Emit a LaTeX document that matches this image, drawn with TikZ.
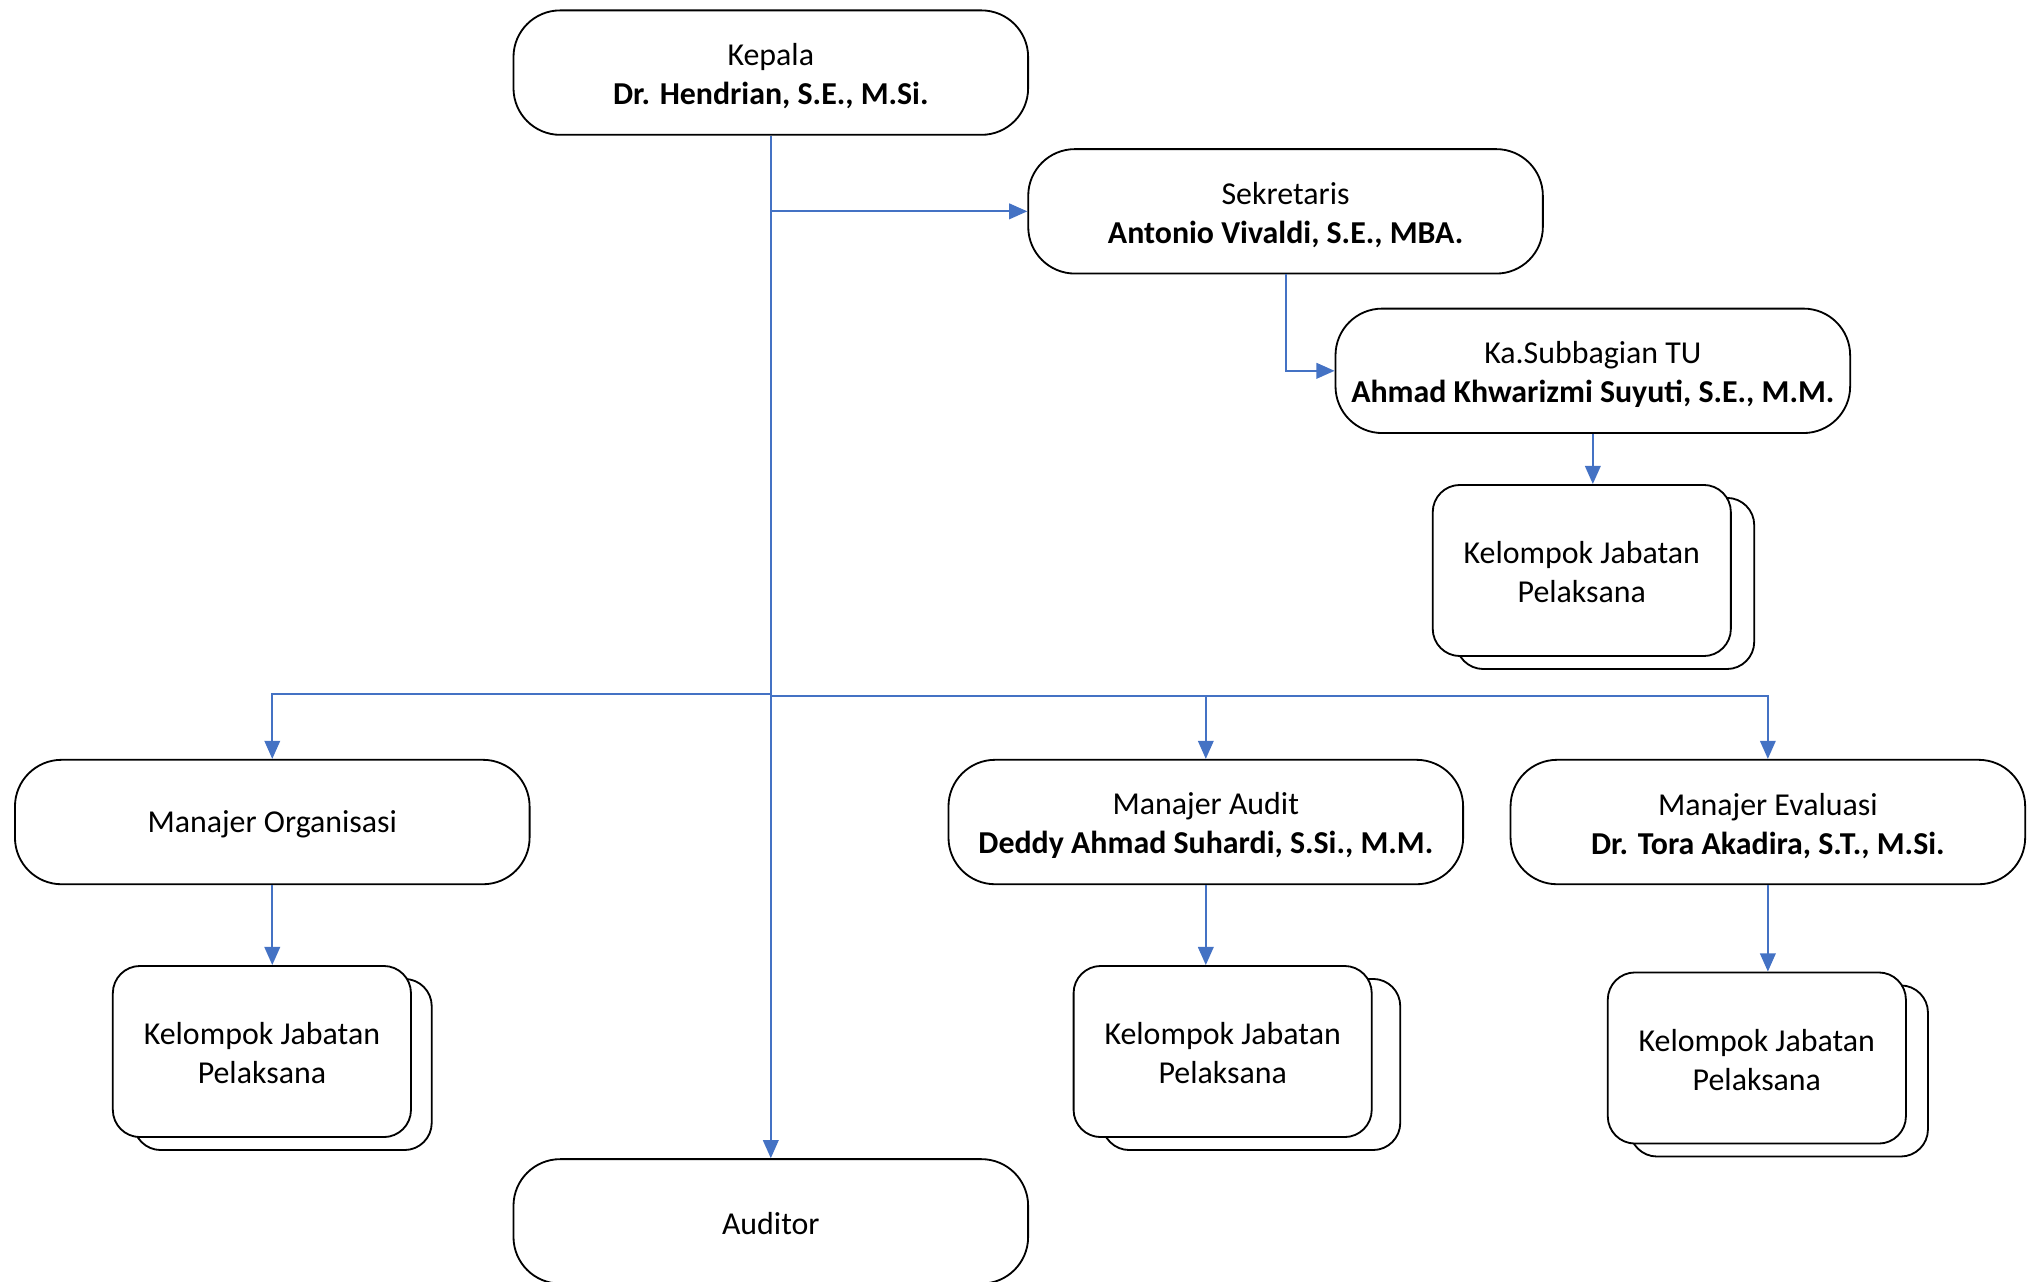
\documentclass[tikz,border=0pt]{standalone}
\usepackage{fontspec}
\setmainfont{Carlito}
\usetikzlibrary{arrows.meta}
\definecolor{connblue}{RGB}{68,114,196}
\newcommand{\toprl}{\rule{0pt}{13pt}}
\newcommand{\grprl}{\rule{0pt}{11.2pt}}
\begin{document}
\begin{tikzpicture}[x=0.02cm,y=-0.02cm,
  box/.style={draw=black,line width=0.8pt,rounded corners=0.72cm,minimum width=7.94cm,minimum height=1.92cm,align=center,font=\fontsize{14}{17}\selectfont,inner sep=0pt,fill=white},
  grp/.style={draw=black,line width=0.8pt,rounded corners=0.42cm,minimum width=4.6cm,minimum height=2.64cm,align=center,font=\fontsize{14}{17}\selectfont,inner sep=0pt,fill=white},
  conn/.style={draw=connblue,line width=0.9pt,-{Triangle[length=0.28cm,width=0.24cm]}}]
\useasboundingbox (0,0) rectangle (1568,988);
% main boxes
\node[box] (kep) at (594.5,56) {\toprl Kepala\\\textbf{Dr. Hendrian, S.E., M.Si.}};
\node[box] (sek) at (991.5,163) {\toprl Sekretaris\\\textbf{Antonio Vivaldi, S.E., MBA.}};
\node[box] (tu) at (1228.5,286) {\toprl Ka.Subbagian TU\\\textbf{Ahmad Khwarizmi Suyuti, S.E., M.M.}};
\node[box] (org) at (210,634) {\rule{0pt}{12pt}Manajer Organisasi};
\node[box] (mau) at (930,634) {\toprl Manajer Audit\\\textbf{Deddy Ahmad Suhardi, S.Si., M.M.}};
\node[box] (eva) at (1363.5,634) {\toprl Manajer Evaluasi\\\textbf{Dr. Tora Akadira, S.T., M.Si.}};
\node[box] (aud) at (594.5,942) {\rule{0pt}{12pt}Auditor};
% stacked groups
\node[grp] (k1b) at (1238,450) {};
\node[grp] (k1) at (1220,440) {\grprl Kelompok Jabatan\\Pelaksana};
\node[grp] (k2b) at (218,821) {};
\node[grp] (k2) at (202,811) {\grprl Kelompok Jabatan\\Pelaksana};
\node[grp] (k3b) at (965,821) {};
\node[grp] (k3) at (943,811) {\grprl Kelompok Jabatan\\Pelaksana};
\node[grp] (k4b) at (1372,826) {};
\node[grp] (k4) at (1355,816) {\grprl Kelompok Jabatan\\Pelaksana};
% connectors
\coordinate (busL) at (594.5,535);
\coordinate (busR) at (594.5,537);
\draw[conn] (kep.south) -- (aud.north);
\draw[conn] (kep.south |- sek.west) -- (sek.west);
\draw[conn] (sek.south) |- (tu.west);
\draw[conn] (tu.south) -- (tu.south |- k1.north);
\draw[conn] (busL) -| (org.north);
\draw[conn] (busR) -| (mau.north);
\draw[conn] (busR) -| (eva.north);
\draw[conn] (org.south) -- (org.south |- k2.north);
\draw[conn] (mau.south) -- (mau.south |- k3.north);
\draw[conn] (eva.south) -- (eva.south |- k4.north);
\end{tikzpicture}
\end{document}
